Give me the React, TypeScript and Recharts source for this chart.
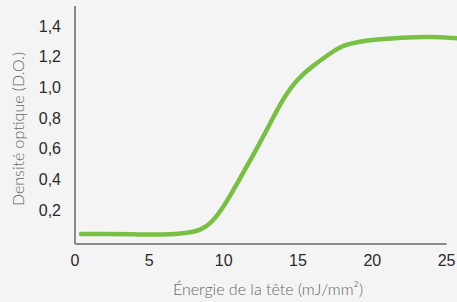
import { LineChart, Line, XAxis, YAxis, ReferenceLine, Label } from "recharts";

if (typeof document !== "undefined") document.body.style.margin = "0";

// Energy (mJ/mm²) and optical density
const energy = [0.4, 2, 4, 6, 7.5, 8.5, 9.2, 10, 11, 12, 13, 14, 15, 16, 17, 18, 19, 20, 22, 24, 25.7];
const density = [0.045, 0.045, 0.043, 0.04, 0.05, 0.07, 0.12, 0.22, 0.39, 0.56, 0.74, 0.93, 1.06, 1.14, 1.21, 1.275, 1.295, 1.31, 1.325, 1.33, 1.32];
const xTicks = [0, 5, 10, 15, 20, 25];
const yTicks = [0.2, 0.4, 0.6, 0.8, 1.0, 1.2, 1.4];

const data = energy.map((e, i) => ({ e, d: density[i] }));

const AXIS = "#8a8a8c";
const TICK = { fill: "#2a2a2a", fontSize: 16, fontFamily: "Liberation Sans" };
const TITLE = { fill: "#666", fontSize: 16, fontFamily: "Lato", fontWeight: 300 };

const YTitle = ({ viewBox }: any) => {
  const x = viewBox.x + 17;
  const y = viewBox.y + viewBox.height / 2 + 4;
  return (
    <text x={x} y={y} transform={`rotate(-90 ${x} ${y})`} textAnchor="middle" dominantBaseline="central" {...TITLE}>
      Densité optique (D.O.)
    </text>
  );
};

const XTitle = ({ viewBox }: any) => (
  <text x={viewBox.x + 193} y={viewBox.y + 44} textAnchor="middle" dominantBaseline="central" {...TITLE}>
    Énergie de la tête (mJ/mm²)
  </text>
);

export default function App() {
  return (
    <div style={{ width: 457, height: 302, background: "#f4f4f4" }}>
      <LineChart width={457} height={302} data={data} margin={{ top: 6, right: 0, bottom: 0, left: 0 }}>
        <XAxis
          dataKey="e"
          type="number"
          domain={[0, 25.7]}
          ticks={xTicks}
          axisLine={false}
          tickLine={false}
          tickSize={0}
          tickMargin={11}
          height={58}
          tick={TICK}
        >
          <Label content={<XTitle />} />
        </XAxis>
        <YAxis
          type="number"
          domain={[-0.02, 1.53]}
          ticks={yTicks}
          width={75}
          axisLine={{ stroke: AXIS, strokeWidth: 2 }}
          tickLine={false}
          tickSize={0}
          tickMargin={14}
          tickFormatter={(v: number) => v.toFixed(1).replace(".", ",")}
          tick={TICK}
        >
          <Label content={<YTitle />} />
        </YAxis>
        <ReferenceLine
          segment={[{ x: 0, y: -0.02 }, { x: 25, y: -0.02 }]}
          stroke={AXIS}
          strokeWidth={2}
        />
        <Line
          type="basis"
          dataKey="d"
          stroke="#78c043"
          strokeWidth={4.5}
          strokeLinecap="round"
          dot={false}
          isAnimationActive={false}
        />
      </LineChart>
    </div>
  );
}
